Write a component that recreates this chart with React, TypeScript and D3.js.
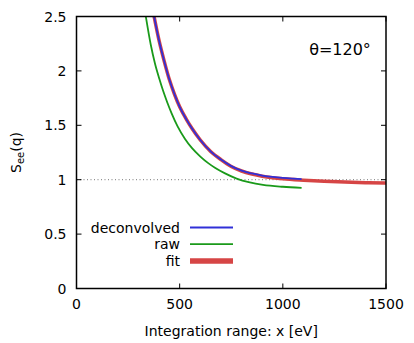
import React from "react";
import * as d3 from "d3";

// deconvolved curve (x in eV, S_ee)
const deconvX = [376, 400, 425, 450, 475, 500, 534, 560, 600, 650, 700, 750, 800, 850, 900, 950, 1000, 1050, 1091];
const deconvY = [2.5, 2.28, 2.09, 1.92, 1.785, 1.67, 1.55, 1.47, 1.365, 1.26, 1.185, 1.125, 1.083, 1.057, 1.038, 1.025, 1.016, 1.01, 1.006];

// raw curve
const rawX = [336, 360, 380, 401, 421, 440, 461, 490, 526, 560, 599, 640, 671, 720, 776, 840, 904, 1000, 1091];
const rawY = [2.5, 2.24, 2.07, 1.93, 1.81, 1.71, 1.61, 1.49, 1.375, 1.29, 1.215, 1.15, 1.11, 1.058, 1.01, 0.975, 0.953, 0.935, 0.924];

// fit curve
const fitX = [376, 400, 425, 450, 475, 500, 534, 560, 600, 650, 700, 750, 800, 850, 900, 950, 1000, 1100, 1200, 1300, 1400, 1500];
const fitY = [2.5, 2.28, 2.09, 1.92, 1.785, 1.67, 1.55, 1.47, 1.365, 1.26, 1.185, 1.122, 1.08, 1.052, 1.032, 1.018, 1.008, 0.995, 0.985, 0.978, 0.973, 0.97];

const xTicks = [0, 500, 1000, 1500];
const yTicks = [0, 0.5, 1, 1.5, 2, 2.5];

const legendItems = [
  { label: "deconvolved", color: "#3030d8", width: 1.8 },
  { label: "raw", color: "#1a9a1a", width: 1.8 },
  { label: "fit", color: "#d64545", width: 5.5 },
];

const App = () => {
  const margin = { top: 16.5, right: 28, bottom: 54.5, left: 76.5 };
  const W = 414;
  const H = 343;
  const x = d3.scaleLinear().domain([0, 1500]).range([margin.left, W - margin.right]);
  const y = d3.scaleLinear().domain([0, 2.5]).range([H - margin.bottom, margin.top]);

  const line = d3
    .line<[number, number]>()
    .x((d) => x(d[0]))
    .y((d) => y(d[1]))
    .curve(d3.curveMonotoneX);

  const zip = (xs: number[], ys: number[]) => xs.map((v, i) => [v, ys[i]] as [number, number]);
  const font = "'DejaVu Sans', sans-serif";
  const fs = 14;
  const [x0, x1] = x.range();
  const [y0, y1] = y.range();

  return (
    <svg width={W} height={H} style={{ position: "absolute", left: 0, top: 0, background: "#fff" }}>
      <defs>
        <clipPath id="plot">
          <rect x={x0} y={y1} width={x1 - x0} height={y0 - y1} />
        </clipPath>
      </defs>

      {/* reference line at 1 */}
      <line x1={x0} x2={x1} y1={y(1)} y2={y(1)} stroke="#777" strokeWidth={1} strokeDasharray="1,2.5" />

      <g clipPath="url(#plot)" fill="none">
        <path d={line(zip(fitX, fitY)) || ""} stroke="#d64545" strokeWidth={3.5} />
        <path d={line(zip(rawX, rawY)) || ""} stroke="#1a9a1a" strokeWidth={1.8} />
        <path d={line(zip(deconvX, deconvY)) || ""} stroke="#3030d8" strokeWidth={1.8} />
      </g>

      {/* ticks */}
      {xTicks.map((t) => (
        <g key={"x" + t}>
          <line x1={x(t)} x2={x(t)} y1={y0} y2={y0 - 5} stroke="#000" />
          <line x1={x(t)} x2={x(t)} y1={y1} y2={y1 + 5} stroke="#000" />
          <text x={x(t)} y={y0 + 20} textAnchor="middle" fontSize={fs} fontFamily={font}>
            {t}
          </text>
        </g>
      ))}
      {yTicks.map((t) => (
        <g key={"y" + t}>
          <line x1={x0} x2={x0 + 5} y1={y(t)} y2={y(t)} stroke="#000" />
          <line x1={x1} x2={x1 - 5} y1={y(t)} y2={y(t)} stroke="#000" />
          <text x={x0 - 10} y={y(t) + 5} textAnchor="end" fontSize={fs} fontFamily={font}>
            {t}
          </text>
        </g>
      ))}

      <rect x={x0} y={y1} width={x1 - x0} height={y0 - y1} fill="none" stroke="#000" strokeWidth={1.5} />

      {/* legend */}
      {legendItems.map((d, i) => (
        <g key={d.label}>
          <text x={180} y={227.5 + i * 16.7 + 5} textAnchor="end" fontSize={fs} fontFamily={font}>
            {d.label}
          </text>
          <line x1={190} x2={233} y1={227.5 + i * 16.7} y2={227.5 + i * 16.7} stroke={d.color} strokeWidth={d.width} />
        </g>
      ))}

      <text x={340} y={55} textAnchor="middle" fontSize={16} fontFamily={font}>
        θ=120°
      </text>

      <text x={(x0 + x1) / 2} y={336} textAnchor="middle" fontSize={fs} fontFamily={font}>
        Integration range: x [eV]
      </text>

      <text transform={`translate(21,${(y0 + y1) / 2}) rotate(-90)`} textAnchor="middle" fontSize={fs} fontFamily={font}>
        S<tspan fontSize={10} dy={3}>ee</tspan>
        <tspan dy={-3}>(q)</tspan>
      </text>
    </svg>
  );
};

export default App;
